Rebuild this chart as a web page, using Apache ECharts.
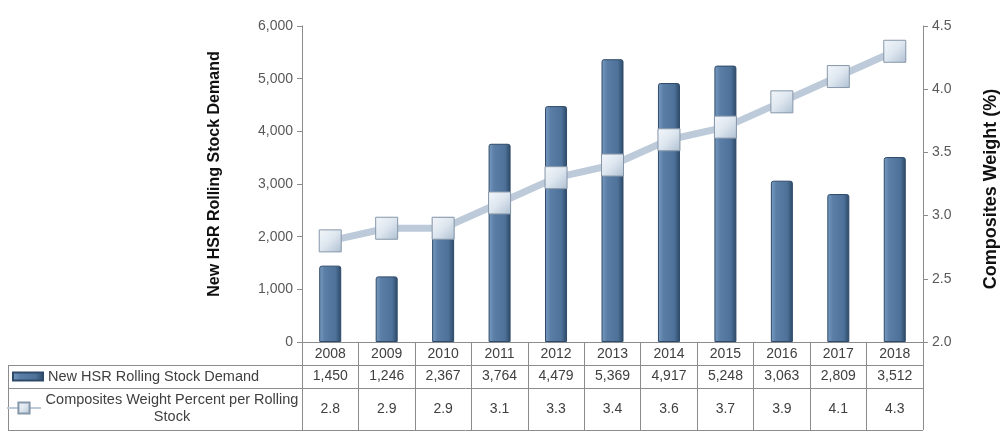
<!DOCTYPE html>
<html>
<head>
<meta charset="utf-8">
<script src="https://cdn.jsdelivr.net/npm/echarts@6/dist/echarts.min.js"></script>
<style>
  html, body { margin: 0; padding: 0; background: #fff; }
  #chart { width: 1002px; height: 441px; }
</style>
</head>
<body>
<div id="chart"></div>
<script>
// data
var years = ['2008', '2009', '2010', '2011', '2012', '2013', '2014', '2015', '2016', '2017', '2018'];
var demand = [1450, 1246, 2367, 3764, 4479, 5369, 4917, 5248, 3063, 2809, 3512];
var weight = [2.8, 2.9, 2.9, 3.1, 3.3, 3.4, 3.6, 3.7, 3.9, 4.1, 4.3];

var barName = 'New HSR Rolling Stock Demand';
var lineName = 'Composites Weight Percent per Rolling Stock';

var font = 'Liberation Sans, Arial, sans-serif';
var txt = '#404040';
var gridLine = '#8c8c8c';

function fmtThousands(v) {
  return String(v).replace(/\B(?=(\d{3})+(?!\d))/g, ',');
}

var chart = echarts.init(document.getElementById('chart'));

var option = {
  animation: false,
  textStyle: { fontFamily: font },
  grid: { left: 302, right: 79, top: 26, bottom: 99, outerBoundsMode: 'none', containLabel: false },
  legend: [
    {
      data: [{ name: barName, icon: 'rect' }],
      left: 12, top: 369,
      padding: 0,
      itemWidth: 30, itemHeight: 8, itemGap: 0,
      textStyle: { fontSize: 14.5, color: txt, fontFamily: font }
    },
    {
      data: [lineName],
      left: 6, top: 392,
      padding: 0,
      itemWidth: 34, itemHeight: 14, itemGap: 0,
      formatter: function () { return '{c|Composites Weight Percent per Rolling}\n{c|Stock}'; },
      textStyle: {
        fontSize: 14.5, color: txt, fontFamily: font,
        rich: { c: { width: 252, align: 'center', fontSize: 14.5, lineHeight: 17, color: txt, fontFamily: font } }
      }
    }
  ],
  xAxis: [
    {
      type: 'category',
      data: years,
      axisLine: { lineStyle: { color: gridLine } },
      axisTick: { show: true, interval: 0, length: 88, lineStyle: { color: gridLine } },
      axisLabel: { interval: 0, margin: 5, fontSize: 14, color: txt, fontFamily: font }
    },
    {
      type: 'category',
      data: demand.map(fmtThousands),
      position: 'bottom',
      offset: 27,
      axisLine: { show: false },
      axisTick: { show: false },
      axisLabel: { interval: 0, margin: 0, fontSize: 14, color: txt, fontFamily: font }
    },
    {
      type: 'category',
      data: weight.map(function (v) { return v.toFixed(1); }),
      position: 'bottom',
      offset: 60,
      axisLine: { show: false },
      axisTick: { show: false },
      axisLabel: { interval: 0, margin: 0, fontSize: 14, color: txt, fontFamily: font }
    }
  ],
  yAxis: [
    {
      type: 'value',
      min: 0, max: 6000, interval: 1000,
      name: 'New HSR Rolling Stock Demand',
      nameLocation: 'middle',
      nameGap: 79,
      nameTextStyle: { fontSize: 16, fontWeight: 'bold', color: '#111', fontFamily: font, padding: [0, 0, 0, 20] },
      axisLine: { show: true, lineStyle: { color: gridLine } },
      axisTick: { show: true, length: 5, lineStyle: { color: gridLine } },
      splitLine: { show: false },
      axisLabel: { fontSize: 14, color: '#595959', margin: 9, fontFamily: font, formatter: fmtThousands }
    },
    {
      type: 'value',
      min: 2.0, max: 4.5, interval: 0.5,
      name: 'Composites Weight (%)',
      nameLocation: 'middle',
      nameGap: 59,
      nameRotate: 90,
      nameTextStyle: { fontSize: 18, fontWeight: 'bold', color: '#111', fontFamily: font, padding: [0, 10, 0, 0] },
      axisLine: { show: true, lineStyle: { color: gridLine } },
      axisTick: { show: true, length: 5, lineStyle: { color: gridLine } },
      splitLine: { show: false },
      axisLabel: { fontSize: 14, color: '#595959', margin: 9, fontFamily: font,
        formatter: function (v) { return v.toFixed(1); } }
    }
  ],
  graphic: [
    { type: 'line', shape: { x1: 8, y1: 365.5, x2: 923, y2: 365.5 }, style: { stroke: gridLine, lineWidth: 1 } },
    { type: 'line', shape: { x1: 8, y1: 388.5, x2: 923, y2: 388.5 }, style: { stroke: gridLine, lineWidth: 1 } },
    { type: 'line', shape: { x1: 8, y1: 430.5, x2: 923, y2: 430.5 }, style: { stroke: gridLine, lineWidth: 1 } },
    { type: 'line', shape: { x1: 8.5, y1: 365, x2: 8.5, y2: 431 }, style: { stroke: gridLine, lineWidth: 1 } }
  ],
  series: [
    {
      name: barName,
      type: 'bar',
      xAxisIndex: 0,
      yAxisIndex: 0,
      data: demand,
      barWidth: 22,
      itemStyle: {
        borderRadius: [2, 2, 0, 0],
        borderColor: '#2e4a68',
        borderWidth: 1,
        color: new echarts.graphic.LinearGradient(0, 0, 1, 0, [
          { offset: 0, color: '#7a9cc2' },
          { offset: 0.25, color: '#5a7ea6' },
          { offset: 0.75, color: '#4d7198' },
          { offset: 1, color: '#2c4866' }
        ])
      }
    },
    {
      name: lineName,
      type: 'line',
      xAxisIndex: 0,
      yAxisIndex: 1,
      data: weight,
      z: 5,
      lineStyle: { width: 7, color: '#bccad9' },
      symbol: 'rect',
      symbolSize: 22,
      itemStyle: {
        borderColor: '#8797aa',
        borderWidth: 1,
        color: new echarts.graphic.LinearGradient(0, 0, 1, 1, [
          { offset: 0, color: '#f4f7fb' },
          { offset: 0.5, color: '#dde6ef' },
          { offset: 1, color: '#aebfd1' }
        ])
      }
    }
  ]
};

chart.setOption(option);
</script>
</body>
</html>
